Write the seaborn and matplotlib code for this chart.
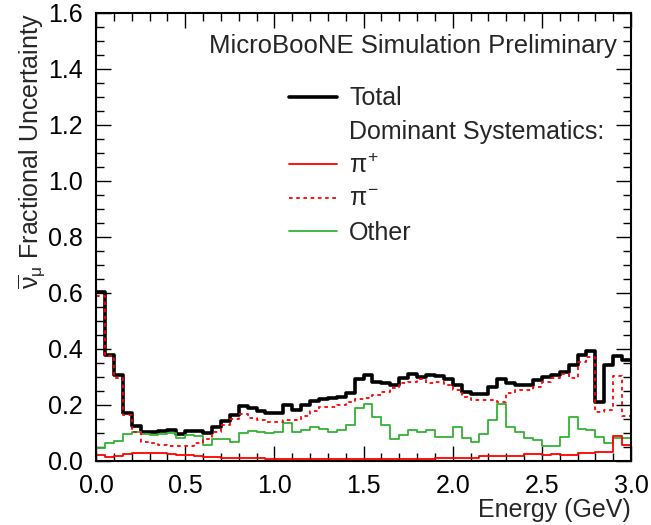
import numpy as np
import pandas as pd
import matplotlib
matplotlib.use("Agg")
import matplotlib.pyplot as plt
import seaborn as sns
from matplotlib.lines import Line2D
from matplotlib.ticker import MultipleLocator, FormatStrFormatter

# 60 energy bins of 0.05 GeV between 0 and 3 GeV
bin_edges = np.round(np.linspace(0.0, 3.0, 61), 3)

total = [0.605, 0.379, 0.307, 0.173, 0.125, 0.105, 0.105, 0.108, 0.110, 0.095,
         0.108, 0.108, 0.100, 0.123, 0.144, 0.164, 0.196, 0.188, 0.180, 0.173,
         0.173, 0.200, 0.182, 0.200, 0.215, 0.220, 0.224, 0.230, 0.244, 0.292,
         0.307, 0.283, 0.277, 0.271, 0.295, 0.310, 0.299, 0.307, 0.304, 0.292,
         0.271, 0.248, 0.238, 0.238, 0.265, 0.292, 0.277, 0.271, 0.271, 0.289,
         0.301, 0.307, 0.319, 0.343, 0.379, 0.394, 0.212, 0.343, 0.375, 0.361]

pi_plus = [0.020, 0.015, 0.018, 0.025, 0.028, 0.030, 0.030, 0.028, 0.025, 0.022,
           0.020, 0.018, 0.016, 0.014, 0.012, 0.011, 0.010, 0.010, 0.009, 0.008,
           0.008, 0.007, 0.007, 0.007, 0.006, 0.006, 0.006, 0.006, 0.006, 0.006,
           0.006, 0.006, 0.006, 0.006, 0.006, 0.007, 0.007, 0.008, 0.009, 0.012,
           0.012, 0.012, 0.012, 0.018, 0.018, 0.018, 0.018, 0.018, 0.025, 0.025,
           0.022, 0.025, 0.021, 0.021, 0.030, 0.030, 0.033, 0.033, 0.089, 0.057]

pi_minus = [0.590, 0.375, 0.295, 0.164, 0.105, 0.069, 0.063, 0.057, 0.052, 0.052,
            0.052, 0.063, 0.077, 0.105, 0.128, 0.149, 0.167, 0.155, 0.146, 0.140,
            0.140, 0.146, 0.146, 0.161, 0.179, 0.194, 0.194, 0.200, 0.212, 0.220,
            0.226, 0.236, 0.248, 0.260, 0.277, 0.283, 0.292, 0.277, 0.283, 0.271,
            0.254, 0.230, 0.218, 0.218, 0.218, 0.212, 0.242, 0.254, 0.254, 0.265,
            0.283, 0.295, 0.310, 0.295, 0.355, 0.373, 0.175, 0.183, 0.305, 0.160]

other = [0.045, 0.065, 0.073, 0.096, 0.105, 0.096, 0.093, 0.096, 0.100, 0.083,
         0.092, 0.089, 0.057, 0.077, 0.077, 0.069, 0.100, 0.108, 0.105, 0.101,
         0.104, 0.135, 0.104, 0.111, 0.120, 0.113, 0.104, 0.111, 0.129, 0.188,
         0.204, 0.156, 0.129, 0.077, 0.093, 0.111, 0.104, 0.111, 0.087, 0.084,
         0.123, 0.081, 0.069, 0.096, 0.146, 0.204, 0.120, 0.105, 0.081, 0.075,
         0.054, 0.054, 0.087, 0.156, 0.113, 0.111, 0.085, 0.063, 0.081, 0.081]

legend_labels = ["Total", "Dominant Systematics:", r"$\pi^{+}$", r"$\pi^{-}$", "Other"]

sns.set_theme(style="ticks")
plt.rcParams["font.family"] = ["Liberation Sans", "DejaVu Sans"]
plt.rcParams["mathtext.fontset"] = "custom"
plt.rcParams["mathtext.rm"] = "Liberation Sans"
plt.rcParams["mathtext.it"] = "Liberation Sans"
plt.rcParams["mathtext.bf"] = "Liberation Sans:bold"

FS = 18
RED = "#ff0000"
GREEN = "#33b233"

fig = plt.figure(figsize=(6.51, 5.25), dpi=100)
ax = fig.add_axes([96 / 651, 64 / 525, 535 / 651, 448 / 525])

centers = (bin_edges[:-1] + bin_edges[1:]) / 2
df = pd.DataFrame({"energy": centers, "total": total, "pi_plus": pi_plus,
                   "pi_minus": pi_minus, "other": other})

common = dict(data=df, x="energy", binwidth=0.05, binrange=(0.0, 3.0),
              element="step", fill=False, ax=ax)
sns.histplot(weights="total", color="black", linewidth=2.6, **common)
sns.histplot(weights="other", color=GREEN, linewidth=1.3, **common)
sns.histplot(weights="pi_plus", color=RED, linewidth=1.3, **common)
sns.histplot(weights="pi_minus", color=RED, linewidth=1.3, linestyle=(0, (2, 2)), **common)

ax.set_xlim(0, 3.0)
ax.set_ylim(0, 1.6)
ax.xaxis.set_major_locator(MultipleLocator(0.5))
ax.xaxis.set_minor_locator(MultipleLocator(0.1))
ax.yaxis.set_major_locator(MultipleLocator(0.2))
ax.yaxis.set_minor_locator(MultipleLocator(0.05))
ax.xaxis.set_major_formatter(FormatStrFormatter("%.1f"))
ax.yaxis.set_major_formatter(FormatStrFormatter("%.1f"))
ax.tick_params(which="both", direction="in", top=True, right=True,
               labelsize=FS, colors="black", width=1.0)
ax.tick_params(which="major", length=11, pad=9.5)
ax.tick_params(which="minor", length=6)
for sp in ax.spines.values():
    sp.set_linewidth(1.5)
    sp.set_color("black")

ax.set_xlabel("Energy (GeV)", fontsize=FS, loc="right", labelpad=0)
ax.set_ylabel(r"$\overline{\nu}_{\mu}$ Fractional Uncertainty", fontsize=FS,
              loc="top", labelpad=1)

ax.text(0.974, 0.926, "MicroBooNE Simulation Preliminary", transform=ax.transAxes,
        ha="right", va="center", fontsize=18.5)

handles = [
    Line2D([], [], color="black", linewidth=2.6),
    Line2D([], [], color="none"),
    Line2D([], [], color=RED, linewidth=1.3),
    Line2D([], [], color=RED, linewidth=1.3, linestyle=(0, (2, 2))),
    Line2D([], [], color=GREEN, linewidth=1.3),
]
ax.legend(handles, legend_labels, loc="upper left", bbox_to_anchor=(0.361, 0.836),
          frameon=False, fontsize=FS, handlelength=1.92, handletextpad=0.48,
          labelspacing=0.38, borderpad=0, borderaxespad=0)

fig.savefig("out.png", dpi=100)
